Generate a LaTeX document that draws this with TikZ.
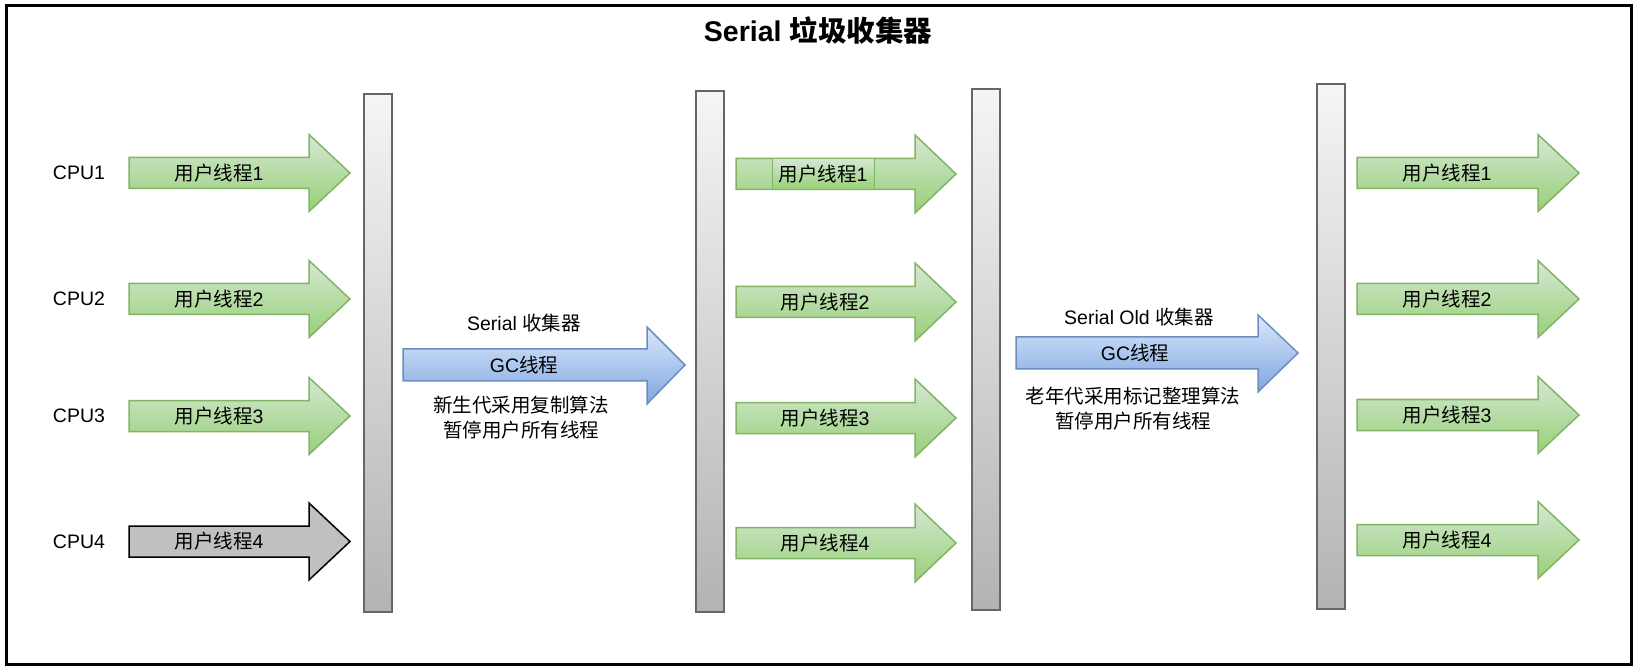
\documentclass[tikz,border=0pt]{standalone}
\usepackage{fontspec}
\setmainfont{Liberation Sans}
\newfontfamily\cjk{Noto Sans CJK SC}
\definecolor{greenline}{HTML}{82B366}
\definecolor{greentop}{HTML}{D5E8D4}
\definecolor{greenbot}{HTML}{97D077}
\definecolor{blueline}{HTML}{6C8EBF}
\definecolor{bluetop}{HTML}{DAE8FC}
\definecolor{bluebot}{HTML}{7EA6E0}
\definecolor{barline}{HTML}{666666}
\definecolor{bartop}{HTML}{F5F5F5}
\definecolor{barbot}{HTML}{B3B3B3}
\definecolor{stopfill}{HTML}{C0C0C0}
\tikzset{
  txt/.style={font=\fontsize{19.5}{25}\selectfont, inner sep=0pt},
  cjktxt/.style={font=\fontsize{19.5}{25}\selectfont\cjk, inner sep=0pt, align=center},
  greenarrow/.style={draw=greenline, line width=1.5pt, top color=greentop, bottom color=greenbot},
  bluearrow/.style={draw=blueline, line width=1.5pt, top color=bluetop, bottom color=bluebot},
  stoparrow/.style={draw=black, line width=1.5pt, fill=stopfill},
  safepoint/.style={draw=barline, line width=1.5pt, top color=bartop, bottom color=barbot}
}
\begin{document}
\begin{tikzpicture}[x=1pt,y=-1pt]
  \useasboundingbox (0,0) rectangle (1634,668);
  % Outer frame and title
  \draw[line width=3pt] (6,6) rectangle (1631,664);
  \node[txt] (title) at (818,31) {\fontsize{28.5}{32}\selectfont\bfseries Serial {\cjk 垃圾收集器}};

  % Safepoint bars
  \foreach \x/\top/\bot in {364/94/612, 696/91/612, 972/89/610, 1317/84/609} {
    \draw[safepoint] (\x,\top) rectangle (\x+28,\bot);
  }

  % First run: CPU labels and user threads
  \foreach \row/\y in {1/173, 2/299, 3/416} {
    \node[txt] (cpu\row) at (79,\y) {CPU\row};
    \draw[greenarrow] (129,\y-15.5) -- (309,\y-15.5) -- (309,\y-38.5) -- (350,\y)
      -- (309,\y+38.5) -- (309,\y+15.5) -- (129,\y+15.5) -- cycle;
    \node[txt] (runa\row) at (219,\y) {{\cjk 用户线程}\row};
  }
  \node[txt] (cpu4) at (79,541.5) {CPU4};
  \draw[stoparrow] (129,526) -- (309,526) -- (309,503) -- (350,541.5)
    -- (309,580) -- (309,557) -- (129,557) -- cycle;
  \node[txt] (runa4) at (219,541.5) {{\cjk 用户线程}4};

  % Young generation GC thread
  \draw[bluearrow] (403,349) -- (647,349) -- (647,327) -- (685,365)
    -- (647,404) -- (647,381) -- (403,381) -- cycle;
  \node[txt] (younggc) at (524,365) {GC{\cjk 线程}};
  \node[txt] (younghead) at (524,323) {Serial {\cjk 收集器}};
  \node[cjktxt] (youngnote) at (521,417.5) {新生代采用复制算法\\暂停用户所有线程};

  % Second run: user threads
  \foreach \row/\y in {1/174, 2/302, 3/418, 4/543} {
    \draw[greenarrow] (736,\y-15.5) -- (915,\y-15.5) -- (915,\y-39) -- (956,\y)
      -- (915,\y+39) -- (915,\y+15.5) -- (736,\y+15.5) -- cycle;
  }
  \node[txt, greenarrow, line width=1pt, minimum width=102pt, minimum height=31pt] (runb1) at (823,174) {{\cjk 用户线程}1};
  \foreach \row/\y in {2/302, 3/418, 4/543} {
    \node[txt] (runb\row) at (825,\y) {{\cjk 用户线程}\row};
  }

  % Old generation GC thread
  \draw[bluearrow] (1016,337) -- (1258,337) -- (1258,315) -- (1298,353)
    -- (1258,392) -- (1258,369) -- (1016,369) -- cycle;
  \node[txt] (oldgc) at (1135,353) {GC{\cjk 线程}};
  \node[txt] (oldhead) at (1139,317) {Serial Old {\cjk 收集器}};
  \node[cjktxt] (oldnote) at (1133,409) {老年代采用标记整理算法\\暂停用户所有线程};

  % Third run: user threads
  \foreach \row/\y in {1/173, 2/299, 3/415, 4/540} {
    \draw[greenarrow] (1357,\y-15.5) -- (1538,\y-15.5) -- (1538,\y-38.5) -- (1579,\y)
      -- (1538,\y+38.5) -- (1538,\y+15.5) -- (1357,\y+15.5) -- cycle;
    \node[txt] (runc\row) at (1447,\y) {{\cjk 用户线程}\row};
  }
\end{tikzpicture}
\end{document}
